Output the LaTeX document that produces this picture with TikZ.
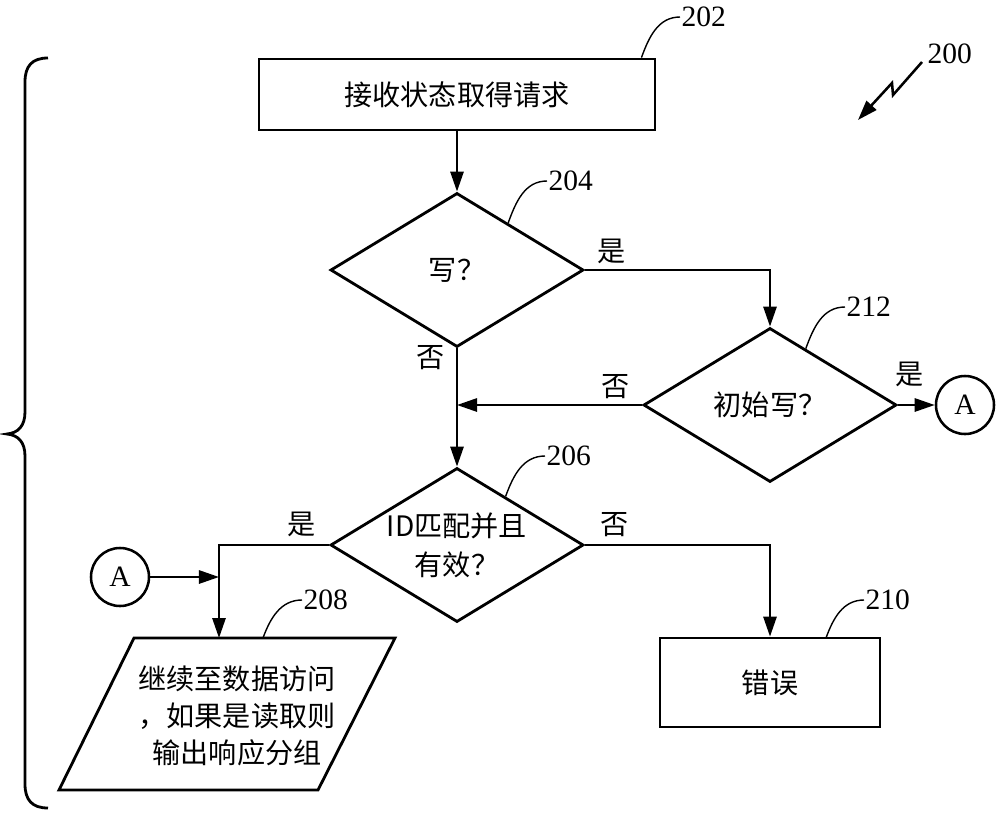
\documentclass[tikz,border=0pt]{standalone}
\usepackage{fontspec}
\setmainfont{Liberation Serif}
\newfontfamily\cjk{Noto Sans CJK SC}
\usepackage{tikz}
\usetikzlibrary{arrows.meta,shapes.geometric,calc}

\tikzset{
  txt/.style={font=\cjk\fontsize{20}{28}\selectfont, inner sep=0pt},
  box/.style={draw, rectangle, line width=2pt, inner sep=0pt, txt},
  decision/.style={draw, diamond, line width=2pt, inner sep=0pt,
    minimum width=6.325cm, minimum height=3.85cm},
  slanted/.style={line width=2pt, line join=miter},
  conn/.style={draw, circle, line width=1.8pt, inner sep=0pt,
    minimum size=1.45cm, font=\fontsize{21}{21}\selectfont},
  num/.style={font=\fontsize{21}{21}\selectfont, inner sep=1pt, anchor=west},
  flow/.style={line width=1.6pt, -{Triangle[length=5mm,width=3.3mm]}},
  lead/.style={line width=1pt}
}

\begin{document}
\begin{tikzpicture}[x=0.025cm,y=-0.025cm]
  \useasboundingbox (0,0) rectangle (1000,817);

  % outer brace
  \draw[line width=2pt] (48,58) .. controls (32,58) and (25,66) .. (25,82) -- (25,412)
    .. controls (25,426) and (18,433) .. (7,434)
    .. controls (18,435) and (25,442) .. (25,456) -- (25,784)
    .. controls (25,800) and (32,808) .. (48,808);

  % steps
  \node[box, minimum width=9.9cm, minimum height=1.775cm] (s202) at (457,94.5) {接收状态取得请求};
  \node[decision, label={[txt]center:写？}] (s204) at (457,270) {};
  \node[decision, label={[txt]center:初始写？}] (s212) at (770,405) {};
  \node[decision, label={[txt, align=center]center:{ID匹配并且\\有效？}}] (s206) at (457,545) {};
  \node[box, minimum width=5.5cm, minimum height=2.225cm] (s210) at (770,682.5) {错误};
  \draw[slanted] (134,638) coordinate (p208) -- (395,638) -- (318,790) -- (59,790) -- cycle;
  \node[txt, align=center, font=\cjk\fontsize{20}{26.5}\selectfont] (s208) at (237,716)
    {继续至数据访问\\，如果是读取则\\输出响应分组};

  % connectors A
  \node[conn] (a1) at (965,405) {A};
  \node[conn] (a2) at (120,577) {A};

  % flow
  \draw[flow] (s202) -- (s204);
  \draw[flow] (s204.east) -| (s212.north);
  \draw[flow] (s204.south) -- (s206.north);
  \coordinate (m1) at (s204.south |- s212.west);
  \draw[flow] (s212.west) -- (m1);
  \draw[flow] (s212.east) -- (a1);
  \draw[flow] (s206.east) -| (s210.north);
  \coordinate (m2) at (219,577);
  \draw[flow] (s206.west) -| (m2 |- p208);
  \draw[flow] (a2) -- (m2);

  % yes / no
  \node[txt] (y204) at (612,251) {是};
  \node[txt] (n204) at (431,358) {否};
  \node[txt] (n212) at (616,387) {否};
  \node[txt] (y212) at (910,374) {是};
  \node[txt] (y206) at (302,524) {是};
  \node[txt] (n206) at (615,525) {否};

  % reference numbers
  \node[num] (r202) at (680,17) {202};
  \node[num] (r204) at (547,181) {204};
  \node[num] (r212) at (845,307) {212};
  \node[num] (r206) at (545,456) {206};
  \node[num] (r208) at (302,600) {208};
  \node[num] (r210) at (864,600) {210};
  \node[num] (r200) at (926,54) {200};

  \draw[lead] ([xshift=-0.375cm]s202.north east) to[out=70,in=180] (r202.west);
  \draw[lead] ($(s204.north)!0.4!(s204.east)$) to[out=70,in=180] (r204.west);
  \draw[lead] ($(s212.north)!0.28!(s212.east)$) to[out=70,in=180] (r212.west);
  \draw[lead] ($(s206.north)!0.38!(s206.east)$) to[out=70,in=180] (r206.west);
  \draw[lead] (263,638) to[out=70,in=180] (r208.west);
  \draw[lead] (826,638) to[out=70,in=180] (r210.west);

  \coordinate (z0) at (922,62);
  \draw[line width=1.8pt, -{Triangle[length=5mm,width=3.3mm]}]
    (z0) -- (893,95) -- (892,83) -- (858,120);
\end{tikzpicture}
\end{document}
